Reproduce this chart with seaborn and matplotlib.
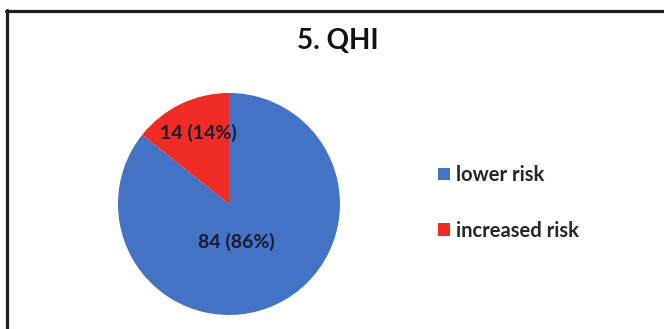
import matplotlib
matplotlib.use("Agg")
import matplotlib.pyplot as plt
from matplotlib.lines import Line2D
import seaborn as sns

# data
categories = ["lower risk", "increased risk"]
counts = [84, 14]
percents = [86, 14]
colors = ["#4472C4", "#EE2B24"]

sns.set_theme(style="white")
plt.rcParams["font.family"] = ["Lato", "DejaVu Sans"]

fig = plt.figure(figsize=(6.64, 3.29), dpi=100, facecolor="white")

# pie axes placed so the pie sits where it does in the reference
ax = fig.add_axes([0.1777, 0.0426, 0.3343, 0.6748])
wedges, texts = ax.pie(counts, colors=colors, startangle=90, counterclock=False,
                       radius=1.0, wedgeprops=dict(linewidth=0))
ax.set_xlim(-1, 1)
ax.set_ylim(-1, 1)
ax.set_aspect("equal")
ax.axis("off")

# data labels (Excel-like placement)
label_pos = [(0.063, -0.342), (-0.28, 0.64)]
for c, p, (lx, ly) in zip(counts, percents, label_pos):
    ax.text(lx, ly, f"{c} ({p}%)", ha="center", va="center",
            fontsize=14, fontweight="bold", color="#1b1b30")

fig.text(0.509, 0.875, "5. QHI", ha="center", va="center",
         fontsize=20, fontweight="bold", color="#111111")

fig.legend(wedges, categories, loc="center left", bbox_to_anchor=(0.633, 0.383),
           frameon=False, handlelength=0.55, handleheight=0.55, handletextpad=0.3,
           labelspacing=1.75, prop=dict(size=14.5, weight="bold"))

# partial frame: top and left lines
fig.add_artist(Line2D([0.009, 1.0], [0.9666, 0.9666], transform=fig.transFigure,
                      color="#231F20", linewidth=2.3))
fig.add_artist(Line2D([0.0105, 0.0105], [0.0, 0.9700], transform=fig.transFigure,
                      color="#231F20", linewidth=2.3))

fig.savefig("out.png", dpi=100, facecolor="white")
